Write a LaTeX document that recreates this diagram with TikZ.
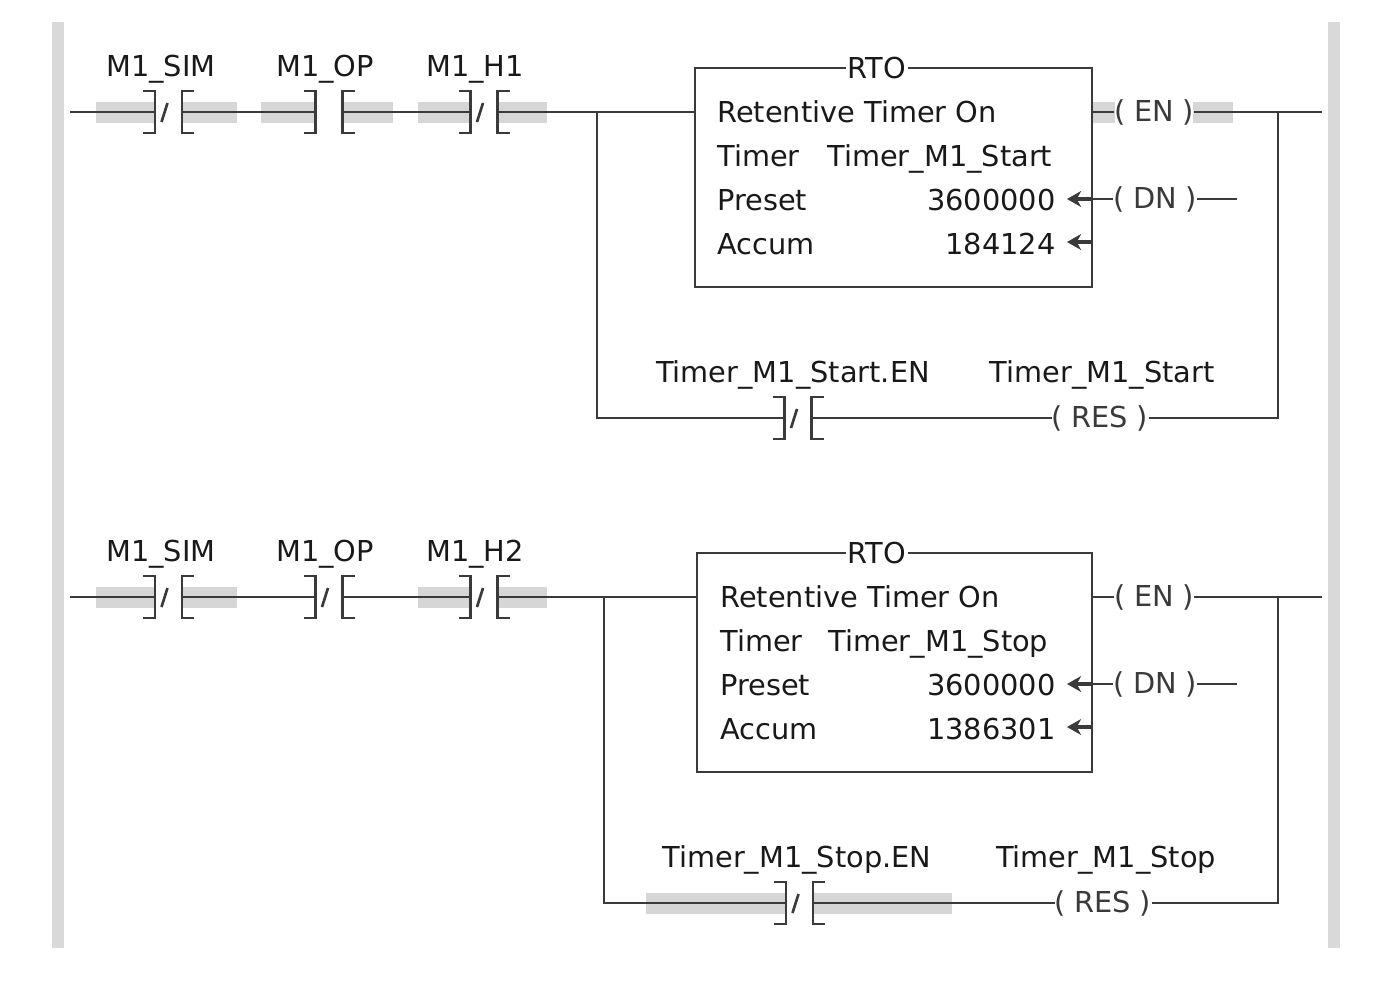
\documentclass[tikz,border=0pt]{standalone}
\usepackage{fontspec}
\setmainfont{DejaVu Sans}
\usepackage{tikz}
\usetikzlibrary{arrows.meta}

\definecolor{wirecol}{HTML}{3A3A3A}
\definecolor{hlcol}{HTML}{D6D6D6}
\definecolor{railcol}{HTML}{D9D9D9}
\newcommand\ladderfont{\fontsize{16.4}{19}\selectfont}

\tikzset{
  wire/.style={draw=wirecol, line width=1.2pt},
  hilite/.style={fill=hlcol, draw=none},
  rail/.style={fill=railcol, draw=none},
  tag/.style={font=\ladderfont, text=black!90, inner sep=0pt},
  coil/.style={tag, text=wirecol},
  rtobox/.style={wire, fill=none, inner sep=0pt},
  backarrow/.style={draw=wirecol, line width=2.2pt, -{Stealth[length=8pt, width=9pt, inset=2.5pt]}},
  nocontact/.pic={
    \coordinate (-in) at (-13.5,0);
    \coordinate (-out) at (13.5,0);
    \draw[wire] (-25.5,-21) -- (-13.5,-21) -- (-13.5,21) -- (-25.5,21);
    \draw[wire] (25.5,-21) -- (13.5,-21) -- (13.5,21) -- (25.5,21);
  },
  nccontact/.pic={
    \coordinate (-in) at (-13.5,0);
    \coordinate (-out) at (13.5,0);
    \draw[wire] (-25.5,-21) -- (-13.5,-21) -- (-13.5,21) -- (-25.5,21);
    \draw[wire] (25.5,-21) -- (13.5,-21) -- (13.5,21) -- (25.5,21);
    \draw[wire, line width=1.5pt] (-7,10) -- (-1,-9);
  },
}

\begin{document}
\begin{tikzpicture}[x=0.02cm, y=-0.02cm]
\useasboundingbox[fill=white] (0,0) rectangle (1378,988);
\fill[rail] (52,22) rectangle (64,948); % left rail
\fill[rail] (1328,22) rectangle (1340,948); % right rail

% rung 1
\fill[hilite] (96,101.5) rectangle (155,122.5); % M1_SIM
\fill[hilite] (182,101.5) rectangle (237,122.5);
\fill[hilite] (261,101.5) rectangle (315.5,122.5); % M1_OP
\fill[hilite] (342.5,101.5) rectangle (393,122.5);
\fill[hilite] (418,101.5) rectangle (470.5,122.5); % M1_H1
\fill[hilite] (497.5,101.5) rectangle (547,122.5);
\fill[hilite] (1093,101.5) rectangle (1115,122.5); % EN
\fill[hilite] (1193,101.5) rectangle (1233,122.5);
\coordinate (railL1) at (70,112);
\coordinate (railR1) at (1322,112);
\coordinate (brL1) at (597,112);
\coordinate (brL1b) at (597,418);
\coordinate (brR1) at (1278,112);
\coordinate (brR1b) at (1278,418);
\pic (sim1) at (168.5,112) {nccontact};
\pic (op1) at (329,112) {nocontact};
\pic (hone) at (484,112) {nccontact};
\node[tag, anchor=base] (sim1lbl) at (161,76) {M1\_SIM};
\node[tag, anchor=base] (op1lbl) at (325,76) {M1\_OP};
\node[tag, anchor=base] (honelbl) at (475,76) {M1\_H1};
\node[rtobox, minimum width=7.94cm, minimum height=4.38cm] (rto1) at (893.5,177.5) {};
\node[tag, fill=white, inner xsep=1pt] (rto1t) at (877,68) {RTO};
\node[tag, anchor=base west] (rto1a) at (717,122) {Retentive Timer On};
\node[tag, anchor=base west] (rto1b) at (717,166) {Timer};
\node[tag, anchor=base west] (rto1bv) at (827,166) {Timer\_M1\_Start};
\node[tag, anchor=base west] (rto1c) at (717,210) {Preset};
\node[tag, anchor=base east] (rto1cv) at (1056,210) {3600000};
\node[tag, anchor=base west] (rto1d) at (717,254) {Accum};
\node[tag, anchor=base east] (rto1dv) at (1056,254) {184124};
\node[coil] (en1) at (1154,112) {(\hspace{.3em}EN\hspace{.3em})};
\node[coil] (dn1) at (1155,199) {(\hspace{.3em}DN\hspace{.3em})};
\coordinate (dn1end) at (1237,199);
\draw[wire] (railL1) -- (sim1-in); % M1_SIM
\draw[wire] (sim1-out) -- (op1-in);
\draw[wire] (op1-out) -- (hone-in);
\draw[wire] (hone-out) -- (rto1.west |- brL1);
\draw[wire] (rto1.east |- en1) -- (en1.west);
\draw[wire] (en1.east) -- (railR1);
\draw[wire] (rto1.east |- dn1) -- (dn1.west);
\draw[wire] (dn1.east) -- (dn1end);
\draw[backarrow] (rto1.east |- dn1) -- (1067,199); % preset arrow
\draw[backarrow] (1092,242) -- (1067,242); % accum arrow
\pic (ens1) at (798,418) {nccontact};
\node[tag, anchor=base] (ens1lbl) at (793,382) {Timer\_M1\_Start.EN};
\node[coil] (res1) at (1100,418) {(\hspace{.3em}RES\hspace{.3em})};
\node[tag, anchor=base] (res1lbl) at (1102,382) {Timer\_M1\_Start};
\draw[wire] (brL1) -- (brL1b) -- (ens1-in);
\draw[wire] (ens1-out) -- (res1.west);
\draw[wire] (res1.east) -- (brR1b) -- (brR1);

% rung 2
\fill[hilite] (96,586.5) rectangle (155,607.5); % M1_SIM
\fill[hilite] (182,586.5) rectangle (237,607.5);
\fill[hilite] (418,586.5) rectangle (470.5,607.5); % M1_H2
\fill[hilite] (497.5,586.5) rectangle (547,607.5);
\fill[hilite] (646,892.5) rectangle (786,913.5); % Stop.EN
\fill[hilite] (813,892.5) rectangle (952,913.5);
\coordinate (railL2) at (70,597);
\coordinate (railR2) at (1322,597);
\coordinate (brL2) at (604,597);
\coordinate (brL2b) at (604,903);
\coordinate (brR2) at (1278,597);
\coordinate (brR2b) at (1278,903);
\pic (sim2) at (168.5,597) {nccontact};
\pic (op2) at (329,597) {nccontact};
\pic (htwo) at (484,597) {nccontact};
\node[tag, anchor=base] (sim2lbl) at (161,561) {M1\_SIM};
\node[tag, anchor=base] (op2lbl) at (325,561) {M1\_OP};
\node[tag, anchor=base] (htwolbl) at (475,561) {M1\_H2};
\node[rtobox, minimum width=7.90cm, minimum height=4.38cm] (rto2) at (894.5,662.5) {};
\node[tag, fill=white, inner xsep=1pt] (rto2t) at (877,553) {RTO};
\node[tag, anchor=base west] (rto2a) at (720,607) {Retentive Timer On};
\node[tag, anchor=base west] (rto2b) at (720,651) {Timer};
\node[tag, anchor=base west] (rto2bv) at (828,651) {Timer\_M1\_Stop};
\node[tag, anchor=base west] (rto2c) at (720,695) {Preset};
\node[tag, anchor=base east] (rto2cv) at (1056,695) {3600000};
\node[tag, anchor=base west] (rto2d) at (720,739) {Accum};
\node[tag, anchor=base east] (rto2dv) at (1056,739) {1386301};
\node[coil] (en2) at (1154,597) {(\hspace{.3em}EN\hspace{.3em})};
\node[coil] (dn2) at (1155,684) {(\hspace{.3em}DN\hspace{.3em})};
\coordinate (dn2end) at (1237,684);
\draw[wire] (railL2) -- (sim2-in); % M1_SIM
\draw[wire] (sim2-out) -- (op2-in);
\draw[wire] (op2-out) -- (htwo-in);
\draw[wire] (htwo-out) -- (rto2.west |- brL2);
\draw[wire] (rto2.east |- en2) -- (en2.west);
\draw[wire] (en2.east) -- (railR2);
\draw[wire] (rto2.east |- dn2) -- (dn2.west);
\draw[wire] (dn2.east) -- (dn2end);
\draw[backarrow] (rto2.east |- dn2) -- (1067,684); % preset arrow
\draw[backarrow] (1092,727) -- (1067,727); % accum arrow
\pic (ens2) at (799.5,903) {nccontact};
\node[tag, anchor=base] (ens2lbl) at (797,867) {Timer\_M1\_Stop.EN};
\node[coil] (res2) at (1103,903) {(\hspace{.3em}RES\hspace{.3em})};
\node[tag, anchor=base] (res2lbl) at (1106,867) {Timer\_M1\_Stop};
\draw[wire] (brL2) -- (brL2b) -- (ens2-in);
\draw[wire] (ens2-out) -- (res2.west);
\draw[wire] (res2.east) -- (brR2b) -- (brR2);
\end{tikzpicture}
\end{document}
